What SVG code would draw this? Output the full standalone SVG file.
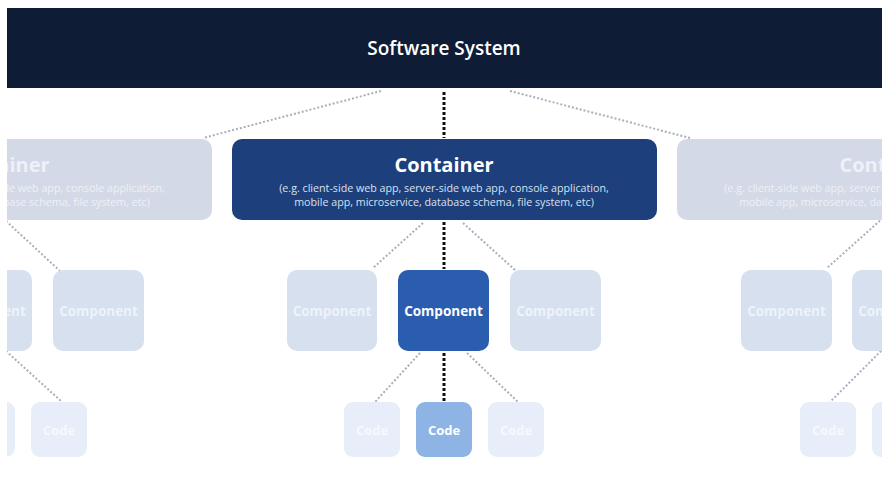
<svg xmlns="http://www.w3.org/2000/svg" width="887" height="480" viewBox="0 0 887 480">
  <defs>
    <clipPath id="frame"><rect x="7" y="0" width="875" height="480"/></clipPath>
    <style>
      text { font-family: "Open Sans", "Noto Sans", "Liberation Sans", sans-serif; text-anchor: middle; }
      .sys { fill: #0e1c36; }
      .sysT { fill: #ffffff; font-size: 19px; font-weight: 600; }
      .cont { fill: #1d3f7b; }
      .contF { fill: #d3d9e6; }
      .contT { fill: #ffffff; font-size: 20px; font-weight: 700; }
      .contS { fill: #d9e1ef; font-size: 10.7px; }
      .contFT { fill: #eef1f7; font-size: 20px; font-weight: 700; }
      .contFS { fill: #eef1f7; font-size: 10.7px; }
      .comp { fill: #2b5dae; }
      .compF { fill: #d6e0ef; }
      .compT { fill: #ffffff; font-size: 13.5px; font-weight: 700; }
      .compFT { fill: #eef3fa; font-size: 13.5px; font-weight: 700; }
      .code { fill: #8db4e4; }
      .codeF { fill: #e7eef9; }
      .codeT { fill: #ffffff; font-size: 13px; font-weight: 700; }
      .codeFT { fill: #f6f9fd; font-size: 13px; font-weight: 700; }
      .main { stroke: #111111; stroke-width: 3; stroke-dasharray: 3 2; fill: none; }
      .faint { stroke: #a9afbb; stroke-width: 2; stroke-dasharray: 2 2; fill: none; }
    </style>
  </defs>
  <rect x="0" y="0" width="887" height="480" fill="#ffffff"/>
  <g clip-path="url(#frame)">
    <g id="connectors">
      <line class="main" x1="444" y1="92" x2="444" y2="138"/>
      <line class="faint" x1="381" y1="91" x2="203" y2="138"/>
      <line class="faint" x1="510" y1="91" x2="690" y2="138"/>
      <line class="main" x1="444" y1="222" x2="444" y2="269"/>
      <line class="faint" x1="423" y1="223" x2="373" y2="268"/>
      <line class="faint" x1="463" y1="223" x2="515" y2="270"/>
      <line class="main" x1="444" y1="353" x2="444" y2="401"/>
      <line class="faint" x1="420" y1="353" x2="375" y2="402"/>
      <line class="faint" x1="467" y1="353" x2="518" y2="402"/>
      <line class="faint" x1="6" y1="221" x2="60" y2="271"/>
      <line class="faint" x1="6" y1="351" x2="62" y2="402"/>
      <line class="faint" x1="883" y1="218" x2="827" y2="268"/>
      <line class="faint" x1="884" y1="348" x2="830" y2="402"/>
    </g>

    <g id="software-system">
      <rect class="sys" x="7" y="8" width="875" height="80"/>
      <text class="sysT" x="444" y="55">Software System</text>
    </g>

    <g id="container-left">
      <rect class="contF" x="-212" y="139" width="424" height="81" rx="10"/>
      <text class="contFT" x="0" y="172">Container</text>
      <text class="contFS" x="0" y="192">(e.g. client-side web app, server-side web app, console application,</text>
      <text class="contFS" x="0" y="206">mobile app, microservice, database schema, file system, etc)</text>
    </g>
    <g id="container">
      <rect class="cont" x="232" y="139" width="425" height="81" rx="10"/>
      <text class="contT" x="444" y="172">Container</text>
      <text class="contS" x="444" y="192">(e.g. client-side web app, server-side web app, console application,</text>
      <text class="contS" x="444" y="206">mobile app, microservice, database schema, file system, etc)</text>
    </g>
    <g id="container-right">
      <rect class="contF" x="677" y="139" width="424" height="81" rx="10"/>
      <text class="contFT" x="889" y="172">Container</text>
      <text class="contFS" x="889" y="192">(e.g. client-side web app, server-side web app, console application,</text>
      <text class="contFS" x="889" y="206">mobile app, microservice, database schema, file system, etc)</text>
    </g>

    <g id="component-l1">
      <rect class="compF" x="-59" y="270" width="91" height="81" rx="10"/>
      <text class="compFT" x="-13.5" y="316">Component</text>
    </g>
    <g id="component-l2">
      <rect class="compF" x="53" y="270" width="91" height="81" rx="10"/>
      <text class="compFT" x="98.5" y="316">Component</text>
    </g>
    <g id="component-c1">
      <rect class="compF" x="287" y="270" width="90" height="81" rx="10"/>
      <text class="compFT" x="332" y="316">Component</text>
    </g>
    <g id="component">
      <rect class="comp" x="398" y="270" width="91" height="81" rx="10"/>
      <text class="compT" x="443.5" y="316">Component</text>
    </g>
    <g id="component-c3">
      <rect class="compF" x="510" y="270" width="91" height="81" rx="10"/>
      <text class="compFT" x="555.5" y="316">Component</text>
    </g>
    <g id="component-r1">
      <rect class="compF" x="741" y="270" width="91" height="81" rx="10"/>
      <text class="compFT" x="786.5" y="316">Component</text>
    </g>
    <g id="component-r2">
      <rect class="compF" x="852" y="270" width="91" height="81" rx="10"/>
      <text class="compFT" x="897.5" y="316">Component</text>
    </g>

    <g id="code-l1">
      <rect class="codeF" x="-41" y="402" width="56" height="55" rx="9"/>
      <text class="codeFT" x="-13" y="435">Code</text>
    </g>
    <g id="code-l2">
      <rect class="codeF" x="31" y="402" width="56" height="55" rx="9"/>
      <text class="codeFT" x="59" y="435">Code</text>
    </g>
    <g id="code-c1">
      <rect class="codeF" x="344" y="402" width="56" height="55" rx="9"/>
      <text class="codeFT" x="372" y="435">Code</text>
    </g>
    <g id="code">
      <rect class="code" x="416" y="402" width="56" height="55" rx="9"/>
      <text class="codeT" x="444" y="435">Code</text>
    </g>
    <g id="code-c3">
      <rect class="codeF" x="488" y="402" width="56" height="55" rx="9"/>
      <text class="codeFT" x="516" y="435">Code</text>
    </g>
    <g id="code-r1">
      <rect class="codeF" x="800" y="402" width="56" height="55" rx="9"/>
      <text class="codeFT" x="828" y="435">Code</text>
    </g>
    <g id="code-r2">
      <rect class="codeF" x="872" y="402" width="56" height="55" rx="9"/>
      <text class="codeFT" x="900" y="435">Code</text>
    </g>
  </g>
</svg>
